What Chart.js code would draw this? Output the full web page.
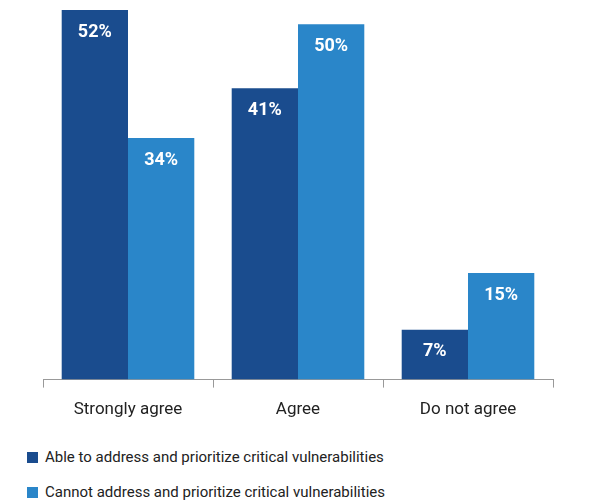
<!DOCTYPE html>
<html>
<head>
  <script src="https://cdn.jsdelivr.net/npm/chart.js"></script>
  <style>
    body { margin: 0; font-family: Roboto, Arial; background: #fff; }
    #wrap { position: relative; width: 595px; height: 432px; }
    .leg { position: absolute; left: 27px; font-size: 15px; color: #222; display: flex; align-items: center; }
    .leg span { display: inline-block; width: 11px; height: 11px; margin-right: 7px; }
  </style>
</head>
<body>
<div id="wrap"><canvas id="c"></canvas></div>
<div class="leg" style="top:448px"><span style="background:#1a4c8e"></span>Able to address and prioritize critical vulnerabilities</div>
<div class="leg" style="top:483px"><span style="background:#2a86c9"></span>Cannot address and prioritize critical vulnerabilities</div>
<script>
  const categories = ['Strongly agree', 'Agree', 'Do not agree'];
  const ableValues = [52, 41, 7];
  const cannotValues = [34, 50, 15];

  const barLabels = {
    id: 'barLabels',
    afterDatasetsDraw(chart) {
      const ctx = chart.ctx;
      ctx.save();
      ctx.fillStyle = '#fff';
      ctx.font = 'bold 18px Roboto';
      ctx.textAlign = 'center';
      ctx.textBaseline = 'middle';
      chart.data.datasets.forEach((ds, i) => {
        chart.getDatasetMeta(i).data.forEach((bar, j) => {
          ctx.fillText(ds.data[j] + '%', bar.x, bar.y + 22);
        });
      });
      ctx.restore();
    }
  };

  new Chart(document.getElementById('c'), {
    type: 'bar',
    data: {
      labels: categories,
      datasets: [
        { label: 'Able', data: ableValues, backgroundColor: '#1a4c8e' },
        { label: 'Cannot', data: cannotValues, backgroundColor: '#2a86c9' }
      ]
    },
    options: {
      responsive: true,
      maintainAspectRatio: false,
      animation: false,
      layout: { padding: { left: 43, right: 42, top: 3 } },
      datasets: { bar: { categoryPercentage: 0.78, barPercentage: 1 } },
      plugins: { legend: { display: false }, tooltip: { enabled: false } },
      scales: {
        x: {
          grid: { offset: true, drawOnChartArea: false, tickLength: 8, color: '#999' },
          border: { color: '#999' },
          ticks: { color: '#222', font: { size: 17, family: 'Roboto' }, padding: 12 }
        },
        y: { display: false, min: 0, max: 53 }
      }
    },
    plugins: [barLabels]
  });
</script>
</body>
</html>
